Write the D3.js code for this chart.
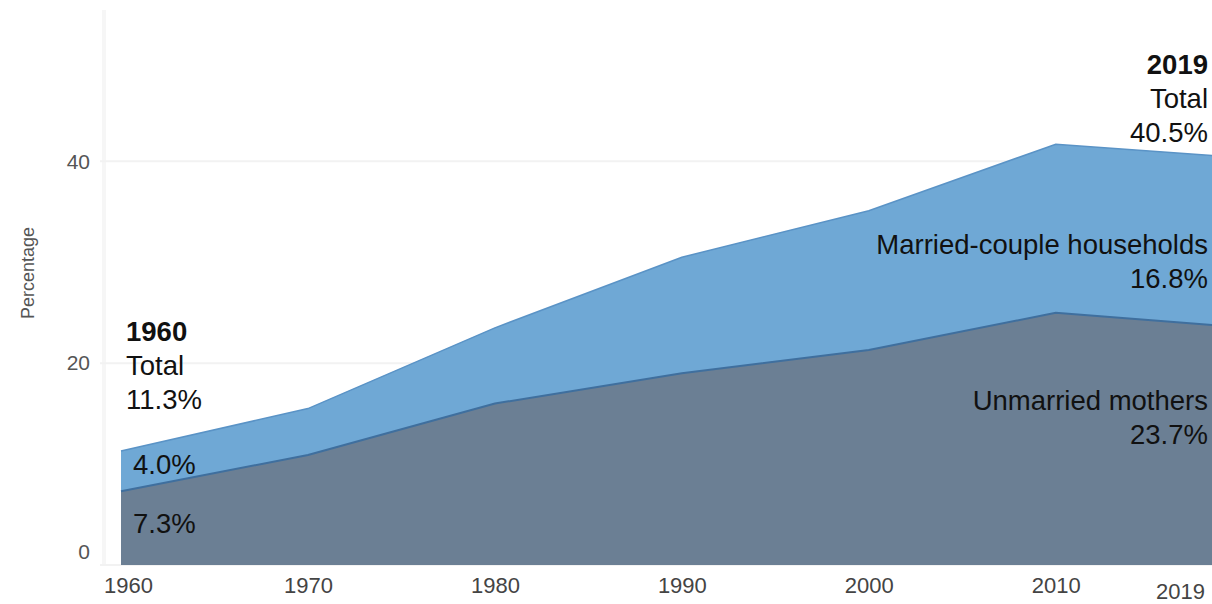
<!DOCTYPE html>
<html>
<head>
<meta charset="utf-8">
<script src="https://cdn.jsdelivr.net/npm/d3@7"></script>
<style>
  body { margin: 0; background: #fff; }
  svg { display: block; font-family: "Liberation Sans", Arial, sans-serif; }
</style>
</head>
<body>
<div class="viewbox"></div>
<script>
// share of births by household type, stacked
const years = [1960, 1970, 1980, 1990, 2000, 2010, 2019];
const unmarried = [7.3, 10.9, 16.0, 19.0, 21.3, 25.0, 23.7];
const married = [4.0, 4.6, 7.5, 11.5, 13.8, 16.7, 16.8];
const yTicks = [0, 20, 40];
const xTicks = [1960, 1970, 1980, 1990, 2000, 2010, 2019];

const svg_width = 1212;
const svg_height = 604;

let svg = d3.select(".viewbox")
  .append("svg")
  .attr("width", svg_width)
  .attr("height", svg_height);

// 2019 sits a bit past the right edge, the picture is cut there
let x = d3.scaleLinear().domain([1960, 2019]).range([121, 1224]);
let y = d3.scaleLinear().domain([0, 55]).range([565, 10]);

let rows = years.map((yr, i) => ({ year: yr, unmarried: unmarried[i], married: married[i] }));
let series = d3.stack().keys(["unmarried", "married"])(rows);

// faint grid
svg.append("line")
  .attr("x1", 104).attr("x2", 104)
  .attr("y1", 10).attr("y2", y(0))
  .attr("stroke", "#f6f6f6").attr("stroke-width", 4);

svg.selectAll(".grid")
  .data(yTicks)
  .enter()
  .append("line")
  .attr("class", "grid")
  .attr("x1", 100).attr("x2", svg_width)
  .attr("y1", d => y(d)).attr("y2", d => y(d))
  .attr("stroke", "#f2f2f2").attr("stroke-width", 2);

let area = d3.area()
  .x(d => x(d.data.year))
  .y0(d => y(d[0]))
  .y1(d => y(d[1]));

let fills = { unmarried: "#6b7f94", married: "#6fa8d5" };
let edges = { unmarried: "#3f6f9e", married: "#5a93c6" };

// draw married first so the darker edge of unmarried sits on top
series.slice().reverse().forEach(s => {
  svg.append("path")
    .datum(s)
    .attr("d", area)
    .attr("fill", fills[s.key]);
  svg.append("path")
    .datum(s)
    .attr("d", d3.line().x(d => x(d.data.year)).y(d => y(d[1])))
    .attr("fill", "none")
    .attr("stroke", edges[s.key])
    .attr("stroke-width", s.key === "unmarried" ? 2 : 1.5);
});

// axes
let yAxis = svg.append("g")
  .attr("transform", "translate(90,0)")
  .call(d3.axisLeft(y).tickValues(yTicks).tickSize(0).tickPadding(0));
yAxis.select(".domain").remove();
yAxis.selectAll("text")
  .attr("font-size", 21)
  .attr("font-family", "Liberation Sans, Arial, sans-serif")
  .attr("fill", "#555")
  .attr("dy", d => d === 0 ? "-0.3em" : "0.32em");

let xAxis = svg.append("g")
  .attr("transform", "translate(0," + y(0) + ")")
  .call(d3.axisBottom(x).tickValues(xTicks).tickFormat(d3.format("d")).tickSize(0).tickPadding(0));
xAxis.select(".domain").remove();
xAxis.selectAll("text")
  .attr("font-size", 22)
  .attr("font-family", "Liberation Sans, Arial, sans-serif")
  .attr("fill", "#444")
  .attr("y", d => d === 2019 ? 18 : 12)
  .attr("x", d => d === 1960 ? 7 : d === 2019 ? -44 : 0);

svg.append("text")
  .attr("transform", "translate(34,273) rotate(-90)")
  .attr("text-anchor", "middle")
  .attr("font-size", 18)
  .attr("fill", "#555")
  .text("Percentage");

// annotations
function label(lines, tx, ty, anchor) {
  let t = svg.append("text")
    .attr("x", tx).attr("y", ty)
    .attr("text-anchor", anchor)
    .attr("font-size", 27.5)
    .attr("fill", "#111");
  lines.forEach((l, i) => {
    t.append("tspan")
      .attr("x", tx)
      .attr("dy", i === 0 ? 0 : 34)
      .attr("font-weight", l.bold ? "bold" : null)
      .text(l.text);
  });
}

let first = 0, last = years.length - 1;
let fmt = v => v.toFixed(1) + "%";

label([{ text: years[first], bold: true }, { text: "Total" }, { text: fmt(unmarried[first] + married[first]) }], 126, 341, "start");
label([{ text: fmt(married[first]) }], 133, 474, "start");
label([{ text: fmt(unmarried[first]) }], 133, 533, "start");

label([{ text: years[last], bold: true }, { text: "Total" }, { text: fmt(unmarried[last] + married[last]) }], 1208, 74, "end");
label([{ text: "Married-couple households" }, { text: fmt(married[last]) }], 1208, 254, "end");
label([{ text: "Unmarried mothers" }, { text: fmt(unmarried[last]) }], 1208, 410, "end");
</script>
</body>
</html>
